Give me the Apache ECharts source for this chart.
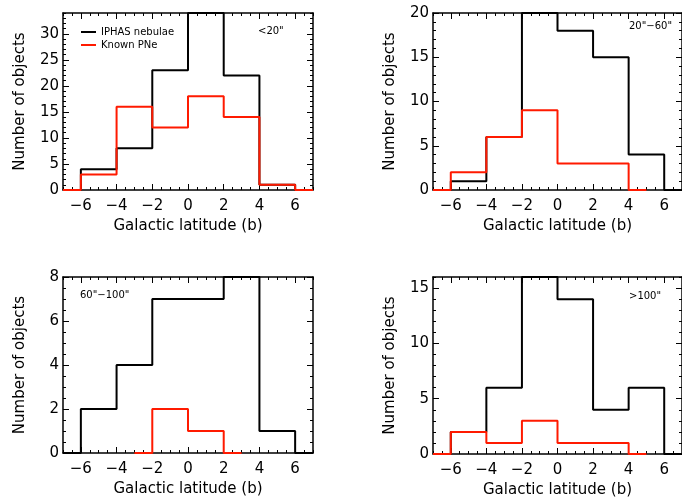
<!DOCTYPE html>
<html>
<head>
<meta charset="utf-8">
<script src="https://cdn.jsdelivr.net/npm/echarts@6/dist/echarts.min.js"></script>
<style>
  html, body { margin: 0; padding: 0; background: #fff; }
  #chart { width: 682px; height: 501px; }
</style>
</head>
<body>
<div id="chart"></div>
<script>
// bin centres (IDL psym=10 style steps, bin width 2 deg)
const binCenters = [-7, -5, -3, -1, 1, 3, 5, 7];

// counts per size class (null = bin not drawn)
const iphasLt20 = [0, 4, 8, 23, 34, 22, 1, 0];
const knownLt20 = [0, 3, 16, 12, 18, 14, 1, 0];
const iphas20to60 = [0, 1, 6, 20, 18, 15, 4, 0];
const known20to60 = [0, 2, 6, 9, 3, 3, 0, null];
const iphas60to100 = [0, 2, 4, 7, 7, 8, 1, 0];
const known60to100 = [null, null, 0, 2, 1, 0, null, null];
const iphasGt100 = [0, 2, 6, 16, 14, 4, 6, 0];
const knownGt100 = [0, 2, 1, 3, 1, 1, 0, null];

const panelLabels = ['<20"', '20"\u221260"', '60"\u2212100"', '>100"'];

// tick labels
const xTicks = [-6, -4, -2, 0, 2, 4, 6];
const yTicksLt20 = [0, 5, 10, 15, 20, 25, 30];
const yTicks20to60 = [0, 5, 10, 15, 20];
const yTicks60to100 = [0, 2, 4, 6, 8];
const yTicksGt100 = [0, 5, 10, 15];

const font = 'DejaVu Sans';
const red = '#ff1a00';

const panels = [
    { box: { left: 63, top: 13, width: 250, height: 177 }, yMax: 34, yTicks: yTicksLt20, yMinor: 1,
      iphas: iphasLt20, known: knownLt20, label: panelLabels[0], labelPos: { left: 258, top: 26 } },
    { box: { left: 433, top: 13, width: 250, height: 177 }, yMax: 20, yTicks: yTicks20to60, yMinor: 1,
      iphas: iphas20to60, known: known20to60, label: panelLabels[1], labelPos: { left: 629, top: 21 } },
    { box: { left: 63, top: 277, width: 250, height: 176 }, yMax: 8, yTicks: yTicks60to100, yMinor: 0.5,
      iphas: iphas60to100, known: known60to100, label: panelLabels[2], labelPos: { left: 80, top: 290 } },
    { box: { left: 433, top: 277, width: 250, height: 177 }, yMax: 16, yTicks: yTicksGt100, yMinor: 1,
      iphas: iphasGt100, known: knownGt100, label: panelLabels[3], labelPos: { left: 629, top: 291 } }
];

function minorValues(min, max, step, majors) {
    const out = [];
    for (let v = min; v <= max + 1e-9; v += step) {
        const r = Math.round(v * 100) / 100;
        if (!majors.includes(r)) out.push(r);
    }
    return out;
}

const minus = v => String(v).replace('-', '\u2212');
// drop empty bins so the step line starts/ends where the histogram does
const pairs = vals => binCenters.map((c, k) => [c, vals[k]]).filter(d => d[1] !== null);

const xAxes = [];
const yAxes = [];
const grids = [];
const series = [];
const titles = [];

panels.forEach((p, i) => {
    grids.push(Object.assign({ containLabel: false }, p.box));

    const xMinor = minorValues(-7, 7, 0.5, xTicks);
    const yMinor = minorValues(0, p.yMax, p.yMinor, p.yTicks);
    const line = { show: true, onZero: false, lineStyle: { color: '#000', width: 1.5 } };
    const noLine = { show: false, onZero: false };
    const tick = (vals, len) => ({ inside: true, length: len, customValues: vals, lineStyle: { color: '#000', width: 1 } });

    const xBase = { type: 'value', gridIndex: i, min: -7, max: 7, splitLine: { show: false } };
    // bottom major with labels
    xAxes.push(Object.assign({}, xBase, {
        position: 'bottom',
        axisLine: line,
        axisTick: tick(xTicks, 6),
        axisLabel: { customValues: xTicks, formatter: minus, color: '#000', fontSize: 15, fontFamily: font, margin: 9 },
        name: 'Galactic latitude (b)',
        nameLocation: 'middle',
        nameGap: 29,
        nameTextStyle: { color: '#000', fontSize: 15, fontFamily: font }
    }));
    // bottom minor
    xAxes.push(Object.assign({}, xBase, {
        position: 'bottom', axisLine: noLine, axisTick: tick(xMinor, 3), axisLabel: { show: false }
    }));
    // top major
    xAxes.push(Object.assign({}, xBase, {
        position: 'top', axisLine: line, axisTick: tick(xTicks, 6), axisLabel: { show: false }
    }));
    // top minor
    xAxes.push(Object.assign({}, xBase, {
        position: 'top', axisLine: noLine, axisTick: tick(xMinor, 3), axisLabel: { show: false }
    }));

    const yBase = { type: 'value', gridIndex: i, min: 0, max: p.yMax, splitLine: { show: false } };
    yAxes.push(Object.assign({}, yBase, {
        position: 'left',
        axisLine: line,
        axisTick: tick(p.yTicks, 6),
        axisLabel: { customValues: p.yTicks, color: '#000', fontSize: 15, fontFamily: font, margin: 4 },
        name: 'Number of objects',
        nameLocation: 'middle',
        nameGap: 35,
        nameTextStyle: { color: '#000', fontSize: 15, fontFamily: font }
    }));
    yAxes.push(Object.assign({}, yBase, {
        position: 'left', axisLine: noLine, axisTick: tick(yMinor, 3), axisLabel: { show: false }
    }));
    yAxes.push(Object.assign({}, yBase, {
        position: 'right', axisLine: line, axisTick: tick(p.yTicks, 6), axisLabel: { show: false }
    }));
    yAxes.push(Object.assign({}, yBase, {
        position: 'right', axisLine: noLine, axisTick: tick(yMinor, 3), axisLabel: { show: false }
    }));

    series.push({
        name: 'IPHAS nebulae',
        type: 'line',
        step: 'middle',
        xAxisIndex: i * 4,
        yAxisIndex: i * 4,
        data: pairs(p.iphas),
        symbol: 'none',
        lineStyle: { color: '#000', width: 2 },
        itemStyle: { color: '#000' },
        silent: true
    });
    series.push({
        name: 'Known PNe',
        type: 'line',
        step: 'middle',
        xAxisIndex: i * 4,
        yAxisIndex: i * 4,
        data: pairs(p.known),
        symbol: 'none',
        lineStyle: { color: red, width: 2 },
        itemStyle: { color: red },
        silent: true
    });

    titles.push({
        text: p.label,
        left: p.labelPos.left,
        top: p.labelPos.top,
        padding: 0,
        textStyle: { color: '#000', fontSize: 10, fontWeight: 'normal', fontFamily: font }
    });
});

const myChart = echarts.init(document.getElementById('chart'), null, { renderer: 'canvas' });

const option = {
    backgroundColor: '#fff',
    animation: false,
    title: titles,
    legend: {
        orient: 'vertical',
        left: 81,
        top: 27,
        padding: 0,
        itemGap: 3,
        itemWidth: 15,
        itemHeight: 2,
        icon: 'rect',
        selectedMode: false,
        textStyle: { color: '#000', fontSize: 10, fontFamily: font },
        data: [
            { name: 'IPHAS nebulae', itemStyle: { color: '#000' } },
            { name: 'Known PNe', itemStyle: { color: red } }
        ]
    },
    grid: grids,
    xAxis: xAxes,
    yAxis: yAxes,
    series: series
};

myChart.setOption(option);
window.addEventListener('resize', () => myChart.resize());
</script>
</body>
</html>
